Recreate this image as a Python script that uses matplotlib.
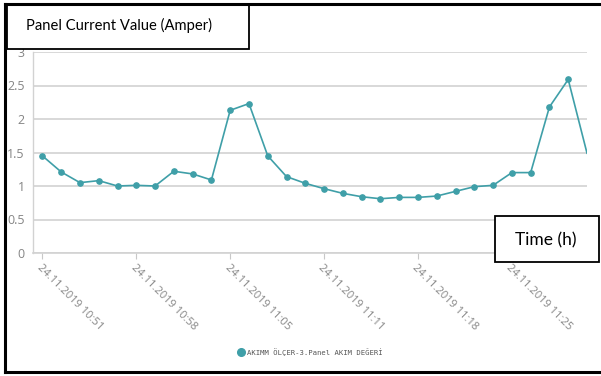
import matplotlib
matplotlib.use("Agg")
from matplotlib import pyplot as plt
from matplotlib.lines import Line2D
from matplotlib.patches import Rectangle

W, H = 601, 376

current = [1.45, 1.21, 1.05, 1.08, 1.00, 1.01, 1.00, 1.22, 1.18, 1.09,
           2.13, 2.23, 1.45, 1.14, 1.04, 0.96, 0.89, 0.84, 0.81, 0.83,
           0.83, 0.85, 0.92, 0.99, 1.01, 1.20, 1.20, 2.18, 2.59, 1.49]
tick_idx = [0, 5, 10, 15, 20, 25]
tick_labels = ["24.11.2019 10:51", "24.11.2019 10:58", "24.11.2019 11:05",
               "24.11.2019 11:11", "24.11.2019 11:18", "24.11.2019 11:25"]
y_ticks = [0, 0.5, 1, 1.5, 2, 2.5, 3]
y_labels = ["0", "0.5", "1", "1.5", "2", "2.5", "3"]
series_name = "AKIMM ÖLÇER-3.Panel AKIM DEĞERİ"

TEAL = "#3f9fa8"
GREY = "#8a8a8a"

plt.rcParams['font.family'] = ['Open Sans', 'DejaVu Sans']

fig = plt.figure(figsize=(W / 100, H / 100), dpi=100)
fig.patch.set_facecolor("white")

# axes box in pixel terms
left, right, top, bottom = 33, 587, 52, 253
ax = fig.add_axes([left / W, 1 - bottom / H, (right - left) / W, (bottom - top) / H])

x = list(range(len(current)))
# last point sits on the edge, its marker is cut off in the original
ax.plot(x, current, color=TEAL, lw=1.2, marker="o", ms=3.8, mfc=TEAL, mec=TEAL,
        markevery=list(range(len(current) - 1)), label=series_name)

ax.set_xlim(-0.5, len(current) - 1)
ax.set_ylim(0, 3)
ax.set_yticks(y_ticks)
ax.set_yticklabels(y_labels)
ax.set_xticks(tick_idx)
ax.set_xticklabels(tick_labels, rotation=-45, ha="left", va="top",
                   rotation_mode="anchor")
ax.tick_params(axis="x", colors="#c8c8c8", labelsize=8, length=4, width=0.8, pad=3)
ax.tick_params(axis="y", colors=GREY, labelsize=9, length=0, pad=6)
for lab in ax.get_xticklabels() + ax.get_yticklabels():
    lab.set_color("#858585")

ax.grid(axis="y", color="#d2d2d2", lw=1.2)
ax.set_axisbelow(True)
for s in ["top", "right"]:
    ax.spines[s].set_visible(False)
ax.spines["left"].set_color("#d2d2d2")
ax.spines["bottom"].set_color("#d2d2d2")
ax.spines["left"].set_linewidth(1.0)
ax.spines["bottom"].set_linewidth(1.2)

# legend under the chart
handle = Line2D([], [], color=TEAL, marker="o", ls="none", ms=5.5)
fig.legend([handle], [series_name], loc="center left",
           bbox_to_anchor=(231 / W, 1 - 352 / H), frameon=False,
           handletextpad=0.3, handlelength=1.0,
           prop={"family": "DejaVu Sans Mono", "size": 5.2}, labelcolor="#555555")

# outer frame (top, left, bottom)
def px_line(xs, ys, lw):
    fig.add_artist(Line2D([v / W for v in xs], [1 - v / H for v in ys],
                          color="black", lw=lw, transform=fig.transFigure))

px_line([5, 600], [4, 4], 2.2)
px_line([5, 5], [4, 372], 2.2)
px_line([5, 600], [372, 372], 2.2)

# title box
fig.add_artist(Rectangle((6.5 / W, 1 - 48.5 / H), (249 - 6.5) / W, (48.5 - 4) / H,
                         transform=fig.transFigure, fc="white", ec="black", lw=1.3))
fig.text(26 / W, 1 - 25 / H, "Panel Current Value (Amper)", fontsize=10.6,
         family=["Lato", "DejaVu Sans"], va="center", ha="left", color="black")

# axis title box
fig.add_artist(Rectangle((495 / W, 1 - 262 / H), (599 - 495) / W, (262 - 216) / H,
                         transform=fig.transFigure, fc="white", ec="black", lw=1.3))
fig.text(546 / W, 1 - 240 / H, "Time (h)", fontsize=12.5,
         family=["Lato", "DejaVu Sans"], va="center", ha="center", color="black")

fig.savefig("out.png", dpi=100)
